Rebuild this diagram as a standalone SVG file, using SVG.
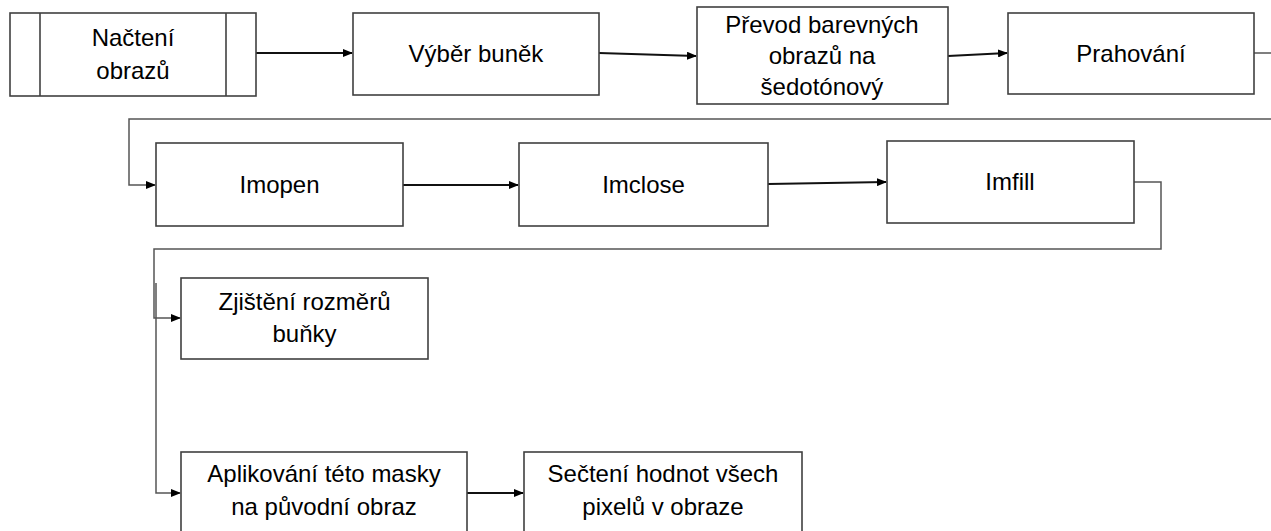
<svg xmlns="http://www.w3.org/2000/svg" width="1271" height="531" viewBox="0 0 1271 531">
<defs>
<marker id="ah" markerWidth="10" markerHeight="8" refX="9" refY="4" orient="auto" markerUnits="userSpaceOnUse">
<path d="M0,0 L10,4 L0,8 z" fill="#000"/>
</marker>
<style>
.box{fill:#fff;stroke:#404040;stroke-width:1.6}
.t{font-family:"Liberation Sans",Arial,sans-serif;font-size:24px;fill:#000;text-anchor:middle}
.c{fill:none;stroke:#333;stroke-width:1.6}
.ca{fill:none;stroke:#111;stroke-width:2;marker-end:url(#ah)}
.cb{fill:none;stroke:#555;stroke-width:1.5;marker-end:url(#ah)}
</style>
</defs>
<rect width="1271" height="531" fill="#fff"/>
<g id="connectors">
<path class="ca" d="M256,53 L352,53"/>
<path class="ca" d="M599,53 L696,56"/>
<path class="ca" d="M948,56 L1007,53"/>
<path class="cb" d="M1254,53 H1280 V119 H129 V185 H155"/>
<path class="ca" d="M403,185 L518,185"/>
<path class="ca" d="M768,184 L886,182"/>
<path class="cb" d="M1134,182 H1161 V249 H154 V318 H180"/>
<path class="cb" d="M156,283 V493 H180"/>
<path class="ca" d="M467,493 L523,493"/>
</g>
<g id="n1">
<rect class="box" x="10" y="13" width="246" height="83"/>
<line class="box" x1="40" y1="13" x2="40" y2="96"/>
<line class="box" x1="226" y1="13" x2="226" y2="96"/>
<text class="t" x="133" y="46">Načtení</text>
<text class="t" x="133" y="79">obrazů</text>
</g>
<g id="n2">
<rect class="box" x="353" y="13" width="246" height="82"/>
<text class="t" x="476" y="62">Výběr buněk</text>
</g>
<g id="n3">
<rect class="box" x="697" y="7" width="251" height="97"/>
<text class="t" x="822" y="33">Převod barevných</text>
<text class="t" x="822" y="64">obrazů na</text>
<text class="t" x="822" y="95">šedotónový</text>
</g>
<g id="n4">
<rect class="box" x="1008" y="13" width="246" height="81"/>
<text class="t" x="1131" y="62">Prahování</text>
</g>
<g id="n5">
<rect class="box" x="156" y="143" width="247" height="83"/>
<text class="t" x="279.5" y="193">Imopen</text>
</g>
<g id="n6">
<rect class="box" x="519" y="143" width="249" height="83"/>
<text class="t" x="643.5" y="193">Imclose</text>
</g>
<g id="n7">
<rect class="box" x="887" y="141" width="247" height="82"/>
<text class="t" x="1010" y="190">Imfill</text>
</g>
<g id="n8">
<rect class="box" x="181" y="278" width="247" height="81"/>
<text class="t" x="304.5" y="310">Zjištění rozměrů</text>
<text class="t" x="304.5" y="342">buňky</text>
</g>
<g id="n9">
<rect class="box" x="181" y="452" width="286" height="90"/>
<text class="t" x="324" y="482">Aplikování této masky</text>
<text class="t" x="324" y="515">na původní obraz</text>
</g>
<g id="n10">
<rect class="box" x="524" y="452" width="278" height="90"/>
<text class="t" x="663" y="482">Sečtení hodnot všech</text>
<text class="t" x="663" y="515">pixelů v obraze</text>
</g>
</svg>
